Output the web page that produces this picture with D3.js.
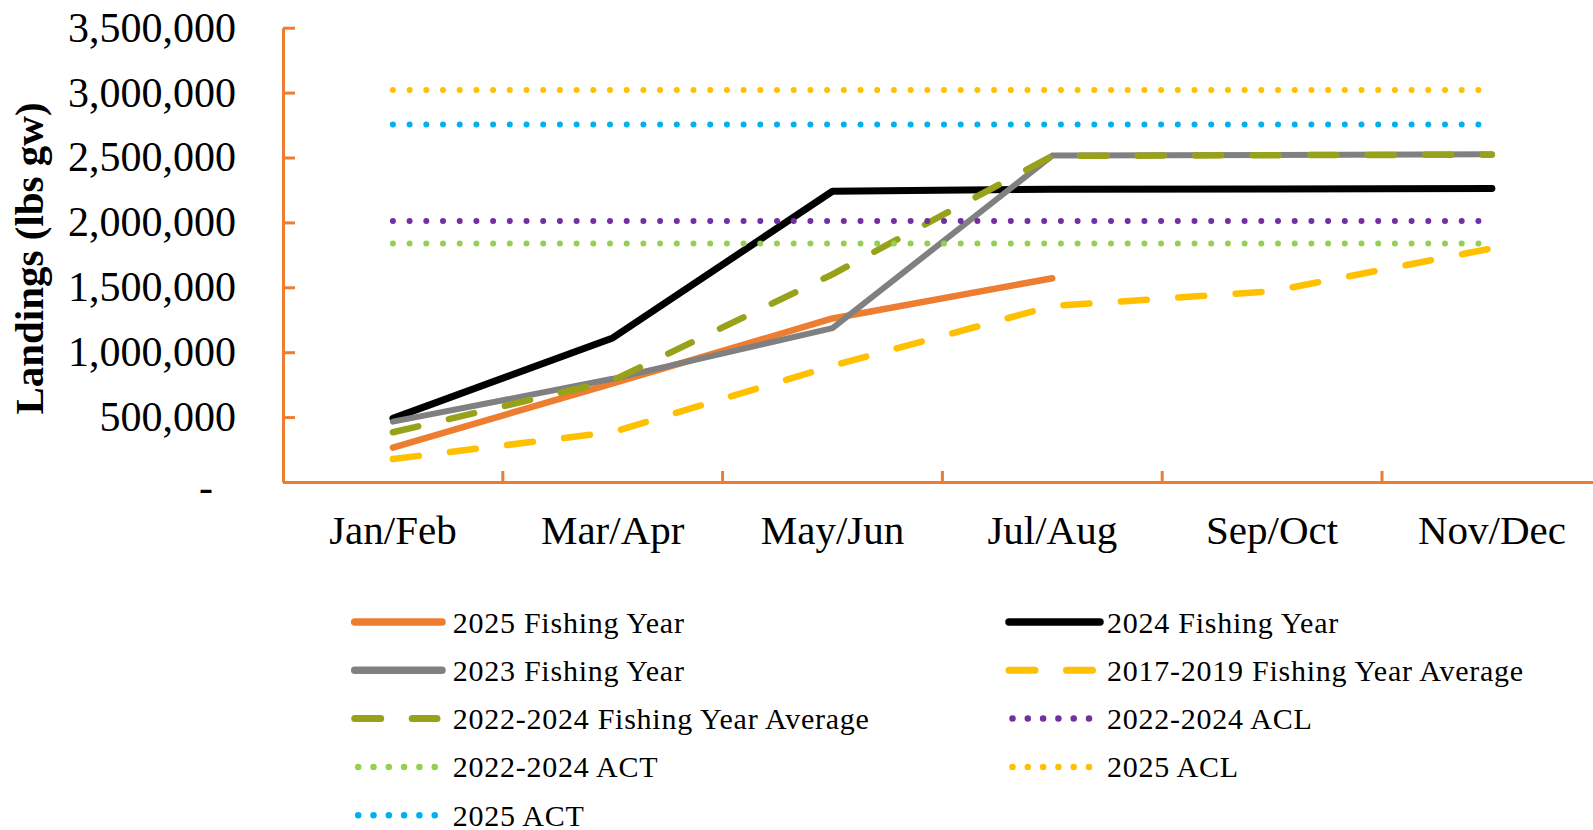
<!DOCTYPE html>
<html><head><meta charset="utf-8">
<script src="https://cdn.jsdelivr.net/npm/d3@7"></script>
<style>
html,body{margin:0;padding:0;background:#fff;overflow:hidden}
text{font-family:"Liberation Serif","Times New Roman",serif;fill:#000}
</style></head>
<body>
<svg id="chart" width="1593" height="830"></svg>
<script>
// ---- data ----
const categories = ["Jan/Feb","Mar/Apr","May/Jun","Jul/Aug","Sep/Oct","Nov/Dec"];
const fy2025 = [265000, 760000, 1260000, 1570000, null, null];
const fy2024 = [490000, 1110000, 2240000, 2255000, 2258000, 2262000];
const fy2023 = [465000, 795000, 1185000, 2515000, 2520000, 2525000];
const avg2017_2019 = [177000, 385000, 895000, 1355000, 1470000, 1800000];
const avg2022_2024 = [383000, 782000, 1600000, 2512000, 2518000, 2522000];
const acl2022_2024 = [2010000, 2010000, 2010000, 2010000, 2010000, 2010000];
const act2022_2024 = [1838000, 1838000, 1838000, 1838000, 1838000, 1838000];
const acl2025 = [3020000, 3020000, 3020000, 3020000, 3020000, 3020000];
const act2025 = [2755000, 2755000, 2755000, 2755000, 2755000, 2755000];
const yTicks = [0, 500000, 1000000, 1500000, 2000000, 2500000, 3000000, 3500000];
const yTitle = "Landings (lbs gw)";

const seriesNames = ["2025 Fishing Year","2024 Fishing Year","2023 Fishing Year",
  "2017-2019 Fishing Year Average","2022-2024 Fishing Year Average",
  "2022-2024 ACL","2022-2024 ACT","2025 ACL","2025 ACT"];
const seriesValues = [fy2025, fy2024, fy2023, avg2017_2019, avg2022_2024,
  acl2022_2024, act2022_2024, acl2025, act2025];

// ---- styles ----
const styles = [
  {color:"#ED7D31", w:6.5, type:"solid"},
  {color:"#000000", w:7, type:"solid"},
  {color:"#808080", w:6, type:"solid"},
  {color:"#FFC000", w:6.5, type:"dash"},
  {color:"#97A21A", w:6.5, type:"dash"},
  {color:"#7030A0", w:6, type:"dot"},
  {color:"#92D050", w:6, type:"dot"},
  {color:"#FFC000", w:6, type:"dot"},
  {color:"#00B0F0", w:6, type:"dot"}
];
const series = seriesNames.map((n,i)=>({name:n, values:seriesValues[i], style:styles[i]}));

const svg = d3.select("#chart");
svg.append("rect").attr("width",1593).attr("height",830).attr("fill","#fff");

const axisColor = "#ED7D31";
const x = d3.scaleBand().domain(categories).range([283, 1601.8]).padding(0);
const y = d3.scaleLinear().domain([0, 3500000]).range([482, 27.7]);

// y axis
const yAxis = svg.append("g").attr("transform","translate(283,0)")
  .call(d3.axisLeft(y).tickValues(yTicks).tickSizeInner(-12).tickSizeOuter(0).tickPadding(47)
    .tickFormat(d => d === 0 ? "-" : d3.format(",")(d)));
yAxis.select(".domain").attr("stroke",axisColor).attr("stroke-width",3);
yAxis.selectAll(".tick line").attr("stroke",axisColor).attr("stroke-width",3);
yAxis.selectAll(".tick text").attr("font-size",42).attr("font-family","Liberation Serif").attr("fill","#000");
yAxis.selectAll(".tick").filter(d=>d===0).select("text").attr("x",-70).attr("dy","0.45em");

// x axis
const xAxis = svg.append("g").attr("transform","translate(0,482)")
  .call(d3.axisBottom(x).tickSize(0).tickPadding(0));
xAxis.select(".domain").attr("stroke",axisColor).attr("stroke-width",3);
xAxis.selectAll(".tick text").attr("font-size",41).attr("font-family","Liberation Serif")
  .attr("fill","#000").attr("y",62).attr("dy",0);
// boundary tick marks between categories
xAxis.selectAll("line.bound").data(categories.slice(0,-1)).enter().append("line")
  .attr("class","bound")
  .attr("x1", d => x(d)+x.bandwidth()).attr("x2", d => x(d)+x.bandwidth())
  .attr("y1",0).attr("y2",-11).attr("stroke",axisColor).attr("stroke-width",3);

// y title
svg.append("text").attr("transform","translate(43,258.5) rotate(-90)")
  .attr("text-anchor","middle").attr("font-size",41).attr("font-weight","bold")
  .attr("font-family","Liberation Serif").text(yTitle);

// lines
function dashFor(s, legend){
  if (s.type==="dash") return "26 31.5";
  if (s.type==="dot") return legend ? "0 15.3" : "0 16.7";
  return null;
}
const line = d3.line().defined(d => d.v != null)
  .x(d => x(d.c) + x.bandwidth()/2).y(d => y(d.v));
series.forEach(s => {
  svg.append("path")
    .datum(categories.map((c,j)=>({c, v:s.values[j]})))
    .attr("d", line).attr("fill","none")
    .attr("stroke", s.style.color).attr("stroke-width", s.style.w)
    .attr("stroke-linecap","round").attr("stroke-linejoin","round")
    .attr("stroke-dasharray", dashFor(s.style,false));
});

// legend
const legendCols = [{x0:354.7, x1:437, tx:452.7},{x0:1009, x1:1095, tx:1107}];
const rowY0 = 622, rowStep = 48.3;
series.forEach((s,i) => {
  const col = legendCols[i%2];
  const row = Math.floor(i/2);
  const yy = rowY0 + row*rowStep;
  const g = svg.append("g").attr("class","legend-item");
  let x0 = col.x0, x1 = col.x1, w = s.style.w;
  if (s.style.type==="solid") { x1 = col.x1 + 5; w = 7.5; }
  if (s.style.type==="dash") { w = 7; }
  if (s.style.type==="dot") { x0 = col.x0 + 3.5; x1 = col.x1; w = 6.5; }
  g.append("line").attr("x1",x0).attr("x2",x1).attr("y1",yy).attr("y2",yy)
    .attr("stroke",s.style.color).attr("stroke-width",w)
    .attr("stroke-linecap","round")
    .attr("stroke-dasharray", dashFor(s.style,true));
  g.append("text").attr("x",col.tx).attr("y",yy+10.5).attr("font-size",30)
    .attr("letter-spacing","0.75px")
    .attr("font-family","Liberation Serif").text(s.name);
});
</script>
</body></html>
